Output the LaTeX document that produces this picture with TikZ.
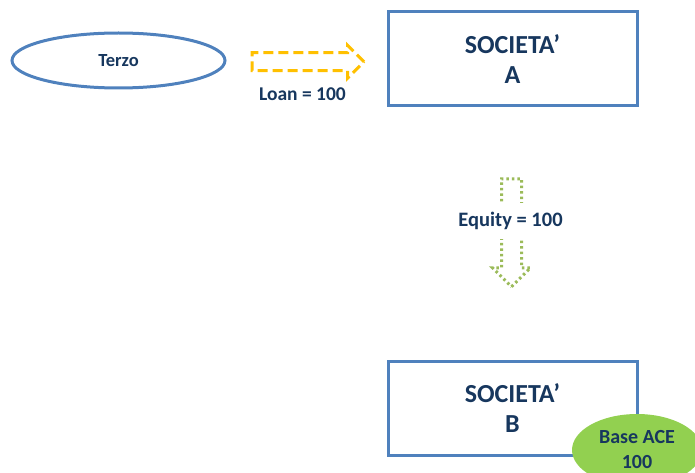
\documentclass[tikz,border=0pt]{standalone}
\usepackage{fontspec}
\setmainfont{Carlito}
\usepackage{xcolor}
\definecolor{boxblue}{RGB}{79,129,189}
\definecolor{ink}{RGB}{23,55,94}
\definecolor{loanyellow}{RGB}{255,192,0}
\definecolor{equitygreen}{RGB}{155,187,89}
\definecolor{acegreen}{RGB}{146,208,80}
\usetikzlibrary{shapes.geometric, shapes.arrows, calc}
\tikzstyle{company} = [
    rectangle, align=center,
    draw=boxblue,
    line width=3pt,
    minimum width=249pt,
    minimum height=94pt,
    text=ink,
    font=\bfseries\fontsize{26}{30}\selectfont,
]
\tikzstyle{party} = [
    ellipse, align=center,
    draw=boxblue,
    line width=3pt,
    minimum width=213pt,
    minimum height=55pt,
    text=ink,
    font=\bfseries\fontsize{18.5}{20}\selectfont,
]
\tikzstyle{base} = [
    ellipse, align=center,
    fill=acegreen,
    minimum width=130pt,
    minimum height=72pt,
    text=ink,
    font=\bfseries\fontsize{20}{25}\selectfont,
]
\tikzstyle{flow} = [
    single arrow, inner xsep=0pt,
    single arrow head extend=7.5pt,
    line width=3pt,
]
\tikzstyle{label} = [
    text=ink,
    font=\bfseries\fontsize{19.5}{22}\selectfont,
]

\begin{document}
\begin{tikzpicture}[x=1pt, y=1pt]
    \useasboundingbox (0,0) rectangle (695,-473);

    % boxes
    \node (terzo) at (118.5,-60.5) [party] {Terzo};
    \node (socA) at (512.5,-59) [company] {SOCIETA’\\A};
    \node (socB) at (512.5,-408.5) [company] {SOCIETA’\\B};
    \node (ace) at (637,-450) [base] {Base ACE\\100};

    % arrows
    \node (loan) at ($(terzo.east)!0.5!(socA.west)+(-3,-2)$) [flow,
        draw=loanyellow, dash pattern=on 10pt off 5pt,
        inner ysep=7.5pt, minimum height=112pt] {};
    \node (loantext) at ($(loan.south)+(-1,-22)$) [label] {Loan = 100};

    \node (equity) at ($(socA.south)!0.5!(socB.north)+(-1,6)$) [flow,
        draw=equitygreen, dash pattern=on 2.5pt off 3pt, rotate=-90,
        inner ysep=8.5pt, single arrow head extend=9pt,
        minimum height=108pt] {};
    \node (equitytext) at ($(equity.center)+(-1,7)$) [label, fill=white,
        inner ysep=9pt, font=\bfseries\fontsize{20.5}{22}\selectfont] {Equity = 100};
\end{tikzpicture}
\end{document}
